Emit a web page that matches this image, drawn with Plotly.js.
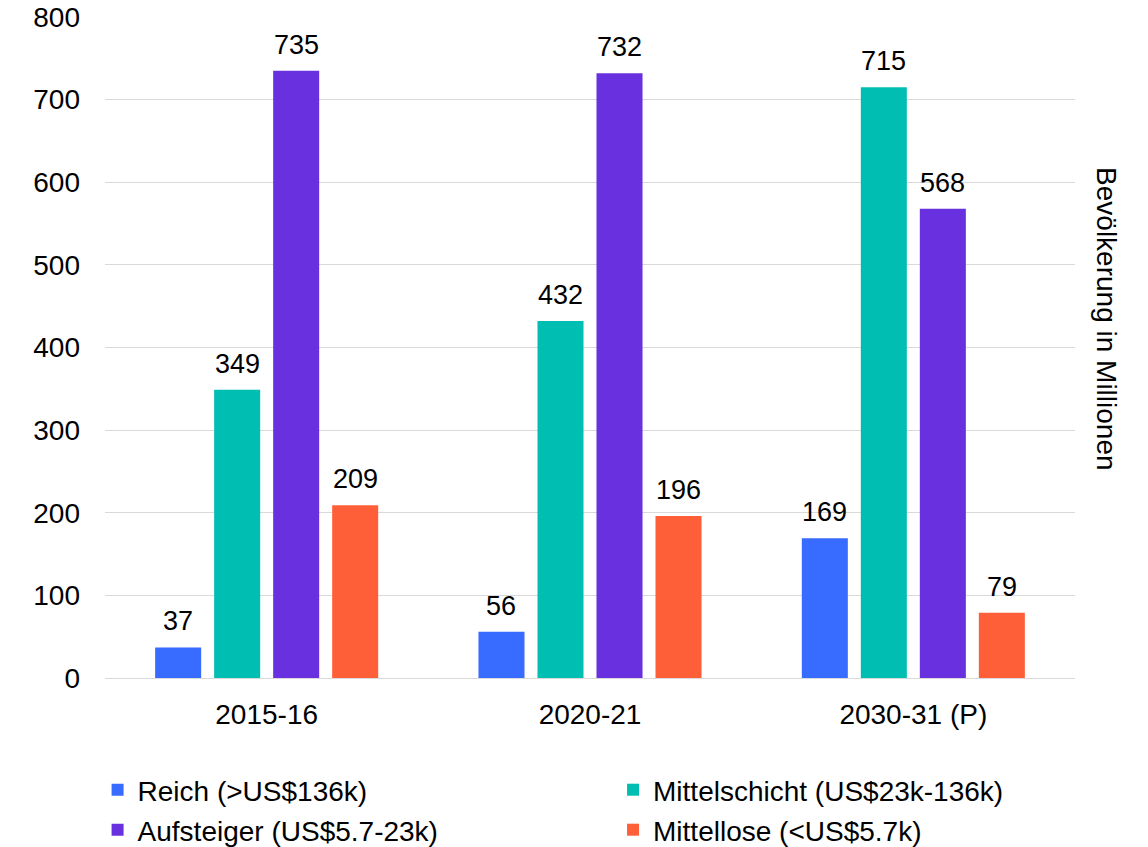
<!DOCTYPE html>
<html><head><meta charset="utf-8">
<script src="https://cdn.plot.ly/plotly-3.0.1.min.js"></script>
<style>body{margin:0;background:#fff}#chart{width:1148px;height:847px}</style>
</head><body><div id="chart"></div>
<script>
const categories = ["2015-16", "2020-21", "2030-31 (P)"];
const seriesNames = ["Reich (>US$136k)", "Mittelschicht (US$23k-136k)", "Aufsteiger (US$5.7-23k)", "Mittellose (<US$5.7k)"];
const reich = [37, 56, 169];
const mittelschicht = [349, 432, 715];
const aufsteiger = [735, 732, 568];
const mittellose = [209, 196, 79];
const colors = ["#386BFF", "#00BFB2", "#6930E0", "#FF5F38"];
const seriesValues = [reich, mittelschicht, aufsteiger, mittellose];

const FONT = "Liberation Sans, Arial, sans-serif";
const W = 1148, H = 847;
const M = {l: 105, r: 73, t: 17, b: 169};
const BARGAP = 0.27, GROUPGAP = 0.22;
const plotW = W - M.l - M.r;
const catW = plotW / categories.length;
const slotW = catW * (1 - BARGAP) / seriesValues.length;

const legendIds = ["legend", "legend2", "legend3", "legend4"];
const legendX = [0.085, 0.534, 0.085, 0.534];
const legendY = [1 - 790 / H, 1 - 790 / H, 1 - 830 / H, 1 - 830 / H];

const traces = seriesValues.map((vals, i) => ({
  type: "bar", x: categories, y: vals, name: seriesNames[i],
  marker: {color: colors[i]}, legend: legendIds[i],
  hoverinfo: "x+y+name"
}));

const annotations = [];
seriesValues.forEach((vals, i) => {
  const shift = (i - (seriesValues.length - 1) / 2) * slotW;
  vals.forEach((v, j) => {
    annotations.push({
      x: categories[j], y: v, xref: "x", yref: "y", text: String(v),
      showarrow: false, xanchor: "center", yanchor: "bottom", xshift: shift, yshift: 9,
      font: {family: FONT, size: 27, color: "#000"}
    });
  });
});
annotations.push({
  text: "Bevölkerung in Millionen", xref: "paper", yref: "paper",
  x: 1.033, y: 0.543, xanchor: "center", yanchor: "middle", textangle: 90,
  showarrow: false, font: {family: FONT, size: 28, color: "#000"}
});

const layout = {
  width: W, height: H, margin: M,
  paper_bgcolor: "#fff", plot_bgcolor: "#fff",
  font: {family: FONT, size: 28, color: "#000"},
  barmode: "group", bargap: BARGAP, bargroupgap: GROUPGAP,
  showlegend: true,
  xaxis: {type: "category", showgrid: false, showline: false, zeroline: false,
    ticks: "", tickfont: {family: FONT, size: 28, color: "#000"}, ticklabelstandoff: 17},
  yaxis: {range: [0, 800], dtick: 100, showgrid: true, gridcolor: "#d9d9d9", gridwidth: 1,
    zeroline: true, zerolinecolor: "#d9d9d9", zerolinewidth: 1, showline: false,
    ticks: "", tickfont: {family: FONT, size: 28, color: "#000"}, ticklabelstandoff: 24},
  annotations: annotations
};
legendIds.forEach((id, i) => {
  layout[id] = {orientation: "h", xref: "container", yref: "container",
    x: legendX[i], xanchor: "left", y: legendY[i], yanchor: "middle",
    bgcolor: "rgba(0,0,0,0)", font: {family: FONT, size: 28, color: "#000"}, itemwidth: 30};
});
Plotly.newPlot("chart", traces, layout, {displayModeBar: false, staticPlot: true});
</script></body></html>
